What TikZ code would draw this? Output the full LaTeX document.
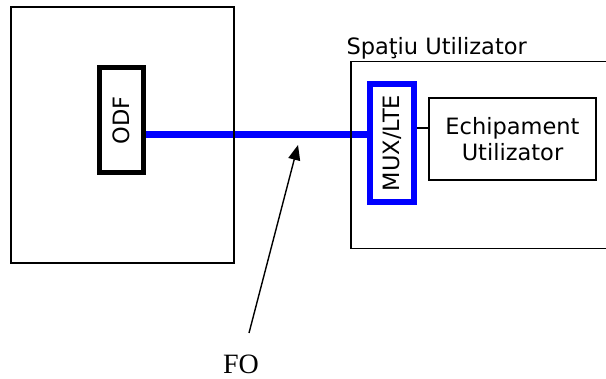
\documentclass[tikz,border=0pt]{standalone}
\usepackage{fontspec}
\setmainfont{Liberation Serif}
\newfontfamily\verdana{DejaVu Sans}
\usepackage{xcolor}
\usepackage{tikz}
\usetikzlibrary{arrows.meta,backgrounds,positioning}
\definecolor{fibreblue}{HTML}{0000FF}
\tikzset{
  sitebox/.style={
    draw=black,
    line width=1.5pt,
    inner sep=0pt
  },
  odfbox/.style={
    draw=black,
    line width=5pt,
    rotate=90,
    inner sep=0pt,
    font=\verdana\fontsize{22.5}{26}\selectfont
  },
  muxbox/.style={
    odfbox,
    draw=fibreblue,
    line width=5.5pt
  },
  equipbox/.style={
    sitebox,
    align=center,
    font=\verdana\fontsize{22.5}{26}\selectfont
  },
  fibreline/.style={
    draw=fibreblue,
    line width=7pt
  },
  pointarrow/.style={
    -{Triangle[length=15pt,width=12pt]},
    line width=1.4pt,
    draw=black
  }
}

\begin{document}
\begin{tikzpicture}[x=1pt,y=1pt]
    \useasboundingbox (0,0) rectangle (606,-379);

    \node[sitebox, minimum width=223pt, minimum height=256pt] (central) at (122.5,-135) {};
    \node[odfbox, minimum width=105pt, minimum height=44pt] (odf) at (121,-120.5) {ODF};

    \node[sitebox, minimum width=262pt, minimum height=187pt, anchor=north west] (userspace) at (350,-61) {};
    \node[anchor=base west, font=\verdana\fontsize{22.5}{26}\selectfont] (userlabel) at (343,-55) {Spaţiu Utilizator};
    \node[muxbox, minimum width=118pt, minimum height=44pt] (mux) at (392,-143) {MUX/LTE};
    \node[equipbox, minimum width=167pt, minimum height=82pt] (equip) at (512.5,-139) {Echipament\\Utilizator};

    \node[anchor=base, font=\fontsize{28}{30}\selectfont] (fo) at (241,-374) {FO};
    \coordinate (fotail) at (249,-333);
    \coordinate (fotip) at (298,-145);

    \begin{scope}[on background layer]
        \draw[fibreline] ([yshift=-14.5pt]odf.south) -- ([yshift=-14.5pt]odf.south -| mux.north);
    \end{scope}
    \draw[line width=1.5pt] ([yshift=15pt]mux.south) -- ([yshift=15pt]mux.south -| equip.west);
    \draw[pointarrow] (fotail) -- (fotip);
\end{tikzpicture}
\end{document}
